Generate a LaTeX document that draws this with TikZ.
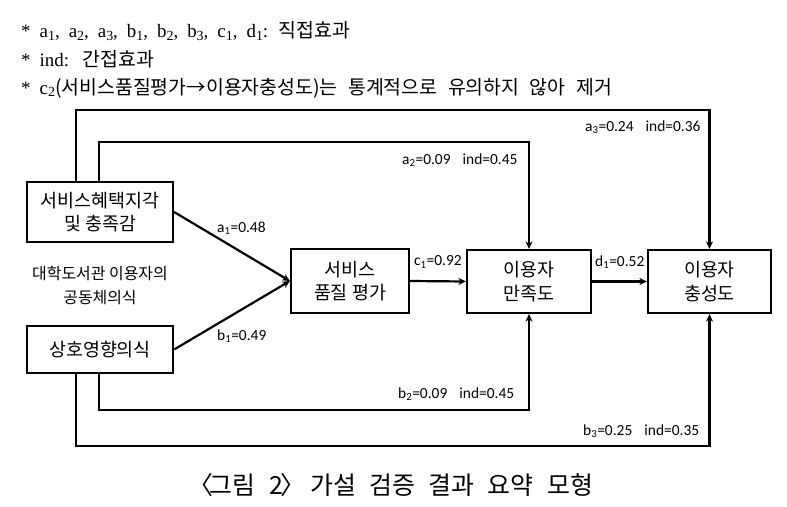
\documentclass[tikz,border=0pt]{standalone}
\usepackage{fontspec}
\setmainfont{Noto Sans CJK KR}
\newfontfamily\kopf[WordSpace=2.4]{Noto Sans CJK KR}
\newfontfamily\lat[WordSpace=1.9]{Liberation Serif}
\newfontfamily\zahl{Carlito}
\usetikzlibrary{arrows.meta}
\newcommand{\tief}[1]{\textsubscript{#1}}
\newcommand{\unten}[1]{\raisebox{-0.3ex}{\fontsize{14}{14}\selectfont #1}}
\tikzset{rechteck/.style = {
    shape = rectangle, draw = black, line width = 2.2bp, inner sep = 0pt,
    align = center, font = \fontsize{18.5}{23.5}\selectfont
}}
\tikzset{pfeil/.style = {
    line width = 2.2bp, -{Stealth[length=7.5bp,width=7bp]}
}}
\tikzset{wert/.style = {
    inner sep = 0pt, anchor = west, font = \zahl\fontsize{15.5}{17}\selectfont
}}
\tikzset{notiz/.style = {
    inner sep = 0pt, anchor = west, font = \kopf\fontsize{19.5}{20}\selectfont
}}

\begin{document}
\begin{tikzpicture}[x=1bp, y=-1bp]
  \useasboundingbox (0,0) rectangle (787,507);
  % Anmerkungen oben
  \node[notiz] (n1) at (21,31) {{\lat\fontsize{19}{20}\selectfont * a\unten{1}, a\unten{2}, a\unten{3}, b\unten{1}, b\unten{2}, b\unten{3}, c\unten{1}, d\unten{1}: }직접효과};
  \node[notiz] (n2) at (21,59) {{\lat\fontsize{19}{20}\selectfont * ind:\hspace{3bp} }간접효과};
  \node[notiz] (n3) at (21,88) {{\lat\fontsize{19}{20}\selectfont * c\unten{2}}(서비스품질평가→이용자충성도)는 통계적으로 유의하지 않아 제거};
  % Kaesten
  \node (h) at (100,212) [rechteck, minimum width=146bp, minimum height=60bp] {서비스혜택지각\\및 충족감};
  \node (m) at (100,349.5) [rechteck, minimum width=146bp, minimum height=47bp] {상호영향의식};
  \node (q) at (350,281) [rechteck, minimum width=118bp, minimum height=64bp] {서비스\\품질 평가};
  \node (z) at (529,281.5) [rechteck, minimum width=124bp, minimum height=63bp] {이용자\\만족도};
  \node (t) at (709.5,281.5) [rechteck, minimum width=123bp, minimum height=63bp] {이용자\\충성도};
  \node (g) at (100,285.5) [align=center, font=\fontsize{16}{25}\selectfont] {대학도서관 이용자의\\공동체의식};
  % Hilfspunkte fuer die Umwege
  \coordinate (oben1) at (76,110);
  \coordinate (oben2) at (99,142);
  \coordinate (unten2) at (99,410);
  \coordinate (unten1) at (76,446);
  % Pfeile
  \draw[pfeil] (h.east) -- (q.west);
  \draw[pfeil] (m.east) -- (q.west);
  \draw[pfeil] (q.east) -- (z.west);
  \draw[pfeil] (z.east) -- (t.west);
  \draw[pfeil] (h.north -| oben1) -- (oben1) -| (t.north);
  \draw[pfeil] (h.north -| oben2) -- (oben2) -| (z.north);
  \draw[pfeil] (m.south -| unten2) -- (unten2) -| (z.south);
  \draw[pfeil] (m.south -| unten1) -- (unten1) -| (t.south);
  % Werte
  \node[wert] (wa1) at (217,228) {a\tief{1}=0.48};
  \node[wert] (wb1) at (217,336) {b\tief{1}=0.49};
  \node[wert] (wc1) at (414,262) {c\tief{1}=0.92};
  \node[wert] (wd1) at (595,262) {d\tief{1}=0.52};
  \node[wert] (wa2) at (402,160) {a\tief{2}=0.09\hspace{12bp}ind=0.45};
  \node[wert] (wa3) at (585,127) {a\tief{3}=0.24\hspace{12bp}ind=0.36};
  \node[wert] (wb2) at (398,394) {b\tief{2}=0.09\hspace{12bp}ind=0.45};
  \node[wert] (wb3) at (583,431) {b\tief{3}=0.25\hspace{12bp}ind=0.35};
  % Titel
  \node (titel) at (395,485) [font=\kopf\fontsize{25}{28}\selectfont] {\hspace*{-9bp}〈\hspace{-3bp}그림 2\hspace{-2bp}〉\hspace{-9bp} 가설 검증 결과 요약 모형};
\end{tikzpicture}
\end{document}
